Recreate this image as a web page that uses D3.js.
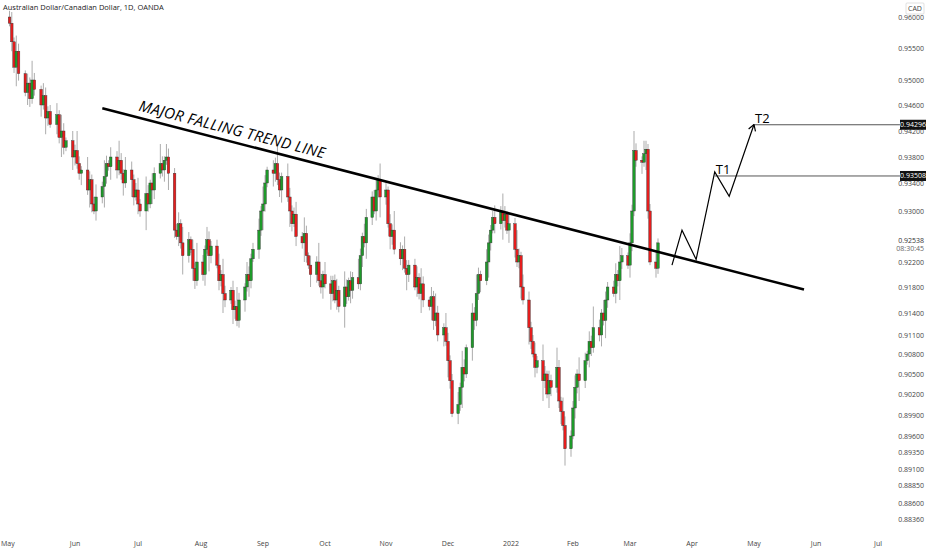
<!DOCTYPE html>
<html><head><meta charset="utf-8">
<script src="https://cdn.jsdelivr.net/npm/d3@7"></script>
<style>body{margin:0;background:#fff;}text{font-family:"Open Sans",sans-serif;}</style>
</head><body><div id="canvas"></div>
<script>
// daily closes, May 3 2021 -> Mar 15 2022
var closes = [
  .9590,.9560,.9520,.9545,.9510,.9480,.9495,.9470,.9500,.9485,.9460,.9475,.9440,.9450,.9430,.9445,.9410,.9420,.9395,.9405,.9380,
  .9390,.9370,.9355,.9360,.9330,.9345,.9310,.9300,.9320,.9335,.9350,.9370,.9365,.9380,.9360,.9375,.9355,.9340,.9360,.9345,.9320,.9330,
  .9310,.9300,.9325,.9310,.9340,.9330,.9355,.9370,.9360,.9375,.9380,.9355,.9270,.9260,.9280,.9250,.9230,.9255,.9240,.9210,.9190,.9220,
  .9200,.9240,.9255,.9230,.9245,.9215,.9190,.9200,.9170,.9160,.9175,.9145,.9150,.9130,.9160,.9180,.9200,.9190,.9225,.9240,.9270,.9300,
  .9310,.9340,.9360,.9355,.9370,.9345,.9330,.9350,.9320,.9300,.9280,.9295,.9260,.9250,.9265,.9230,.9215,.9200,.9220,.9190,.9180,.9200,
  .9185,.9170,.9190,.9160,.9175,.9150,.9180,.9165,.9190,.9175,.9195,.9185,.9230,.9260,.9250,.9290,.9320,.9300,.9330,.9345,.9320,
  .9330,.9280,.9260,.9270,.9240,.9225,.9240,.9210,.9200,.9215,.9180,.9195,.9170,.9185,.9160,.9150,.9165,.9130,.9140,.9110,.9120,.9100,
  .9070,.9040,.8992,.9005,.9030,.9060,.9050,.9090,.9140,.9130,.9170,.9200,.9190,.9220,.9250,.9270,.9290,.9280,.9300,.9285,.9295,.9270,.9280,
  .9240,.9220,.9230,.9180,.9160,.9120,.9100,.9080,.9060,.9070,.9040,.9050,.9020,.9040,.9030,.9060,.9010,.8995,.8975,.8940,.8960,
  .9000,.9030,.9050,.9040,.9070,.9080,.9100,.9090,.9120,.9110,.9140,.9130,.9160,.9180,.9170,.9200,.9190,.9220,.9230,.9215,
  .9250,.9300,.9390,.9375,.9372,.9385,.9392,.9300,.9220,.9210,.9250
];
var firstOpen = .9600;
var wicks = [.0010,.0018,.0007,.0025,.0012,.0005,.0015,.0009,.0030,.0011,.0006,.0020,.0013,.0008];
var priceTicks = [.96,.955,.95,.946,.942,.938,.934,.93,.922,.918,.914,.911,.908,.905,.902,.899,.896,.8935,.891,.8885,.886,.8836];
var tickYs = [17,48,80,105,131,157,183,211,262,287,313,335,354,374,394,415,436,452,469,485,503,519];
var monthTicks = ['2021-05-01','2021-06-01','2021-07-01','2021-08-01','2021-09-01','2021-10-01','2021-11-01','2021-12-01','2022-01-01','2022-02-01','2022-03-01','2022-04-01','2022-05-01','2022-06-01','2022-07-01'];
var monthXs = [5,75,138,201,263,325,386,448,511,573,630,692,754,816,878];
var monthLabels = ['May','Jun','Jul','Aug','Sep','Oct','Nov','Dec','2022','Feb','Mar','Apr','May','Jun','Jul'];
var trendDates = ['2021-06-14','2022-05-26'];
var trendPrices = [.9455,.9176];
var pathDates = ['2022-03-22','2022-03-27','2022-04-03','2022-04-12','2022-04-19','2022-05-01'];
var pathPrices = [.9215,.9270,.9224,.9357,.9321,.9430];
var targets = [{name:'T1', price:.93508, date:'2022-04-12'}, {name:'T2', price:.94296, date:'2022-05-01'}];
var lastPrice = .92538;

var W = 932, H = 550;
var parse = d3.timeParse('%Y-%m-%d');
var x = d3.scaleTime().domain(monthTicks.map(parse)).range(monthXs);
var y = d3.scaleLinear().domain(priceTicks).range(tickYs);

var svg = d3.select('#canvas').append('svg').attr('width', W).attr('height', H);

// trading days, weekends skipped
var days = d3.timeDay.range(parse('2021-05-03'), parse('2022-03-20')).filter(d => d.getDay() > 0 && d.getDay() < 6).slice(0, closes.length);
var candles = closes.map(function(c, i) {
  var o = i ? closes[i - 1] : firstOpen;
  return {d: days[i], o: o, c: c, h: Math.max(o, c) + wicks[i % wicks.length], l: Math.min(o, c) - wicks[(i + 5) % wicks.length]};
});

// axis labels
svg.append('g').selectAll('text').data(priceTicks).enter().append('text')
  .attr('x', 924).attr('y', d => y(d) + 2.5).attr('text-anchor', 'end')
  .attr('font-size', 7).attr('fill', '#444').text(d => d.toFixed(5));
svg.append('g').selectAll('text').data(monthTicks).enter().append('text')
  .attr('x', (d, i) => i ? monthXs[i] : 1).attr('y', 546).attr('text-anchor', (d, i) => i ? 'middle' : 'start')
  .attr('font-size', 7).attr('fill', '#444').text((d, i) => monthLabels[i]);
svg.append('rect').attr('x', 906).attr('y', 3).attr('width', 18).attr('height', 11)
  .attr('fill', '#fff').attr('stroke', '#ccc').attr('stroke-width', 0.6).attr('rx', 1);
svg.append('text').attr('x', 915).attr('y', 11).attr('text-anchor', 'middle').attr('font-size', 7).attr('fill', '#444').text('CAD');
svg.append('text').attr('x', 924).attr('y', y(lastPrice) + 2.5).attr('text-anchor', 'end').attr('font-size', 7).attr('fill', '#333').text(lastPrice.toFixed(5));
svg.append('text').attr('x', 924).attr('y', y(lastPrice) + 11).attr('text-anchor', 'end').attr('font-size', 7).attr('fill', '#666').text('08:30:45');

// candles
var g = svg.append('g');
g.selectAll('.wick').data(candles).enter().append('line')
  .attr('x1', d => x(d.d)).attr('x2', d => x(d.d))
  .attr('y1', d => y(d.h)).attr('y2', d => y(d.l))
  .attr('stroke', '#888').attr('stroke-width', 0.7);
g.selectAll('.body').data(candles).enter().append('rect')
  .attr('x', d => x(d.d) - 1.3).attr('width', 2.6)
  .attr('y', d => y(Math.max(d.o, d.c)))
  .attr('height', d => Math.max(1, Math.abs(y(d.o) - y(d.c))))
  .attr('fill', d => d.c >= d.o ? '#1e9a2a' : '#e41d1d')
  .attr('stroke', '#333').attr('stroke-width', 0.4);

// title
svg.append('text').attr('x', 3).attr('y', 10).attr('font-size', 7.5).attr('fill', '#222')
  .text('Australian Dollar/Canadian Dollar, 1D, OANDA');

// trend line
var tx = trendDates.map(d => x(parse(d))), ty = trendPrices.map(p => y(p));
svg.append('line').attr('x1', tx[0]).attr('y1', ty[0]).attr('x2', tx[1]).attr('y2', ty[1])
  .attr('stroke', '#000').attr('stroke-width', 2.6);
var ang = Math.atan2(ty[1] - ty[0], tx[1] - tx[0]) * 180 / Math.PI;
svg.append('text').attr('transform', 'translate(138,' + (ty[0] + (138 - tx[0]) * Math.tan(ang * Math.PI / 180) - 7) + ') rotate(' + ang + ')')
  .attr('font-size', 15).attr('fill', '#000').attr('letter-spacing', 0.3).attr('font-style', 'italic')
  .attr('font-family', '"Liberation Sans Narrow", "DejaVu Sans Condensed", sans-serif').text('MAJOR FALLING TREND LINE');

// targets
targets.forEach(function(t) {
  var yy = y(t.price), xx = x(parse(t.date));
  svg.append('line').attr('x1', xx).attr('x2', 900).attr('y1', yy).attr('y2', yy).attr('stroke', '#555').attr('stroke-width', 1);
  svg.append('rect').attr('x', 900).attr('y', yy - 5).attr('width', 26).attr('height', 10).attr('fill', '#111');
  svg.append('text').attr('x', 913).attr('y', yy + 2.5).attr('text-anchor', 'middle').attr('font-size', 7).attr('fill', '#fff').text(t.price.toFixed(5));
  svg.append('text').attr('x', xx + 1).attr('y', yy - 2).attr('font-size', 13).attr('fill', '#000').text(t.name);
});

// projected path
var pts = pathDates.map((d, i) => [x(parse(d)), y(pathPrices[i])]);
svg.append('path').attr('d', d3.line()(pts)).attr('fill', 'none').attr('stroke', '#000').attr('stroke-width', 1.2);
var e = pts[pts.length - 1], p = pts[pts.length - 2];
var a = Math.atan2(e[1] - p[1], e[0] - p[0]);
[a + 2.6, a - 2.6].forEach(function(b) {
  svg.append('line').attr('x1', e[0]).attr('y1', e[1]).attr('x2', e[0] + 7 * Math.cos(b)).attr('y2', e[1] + 7 * Math.sin(b))
    .attr('stroke', '#000').attr('stroke-width', 1.2);
});
</script></body></html>
